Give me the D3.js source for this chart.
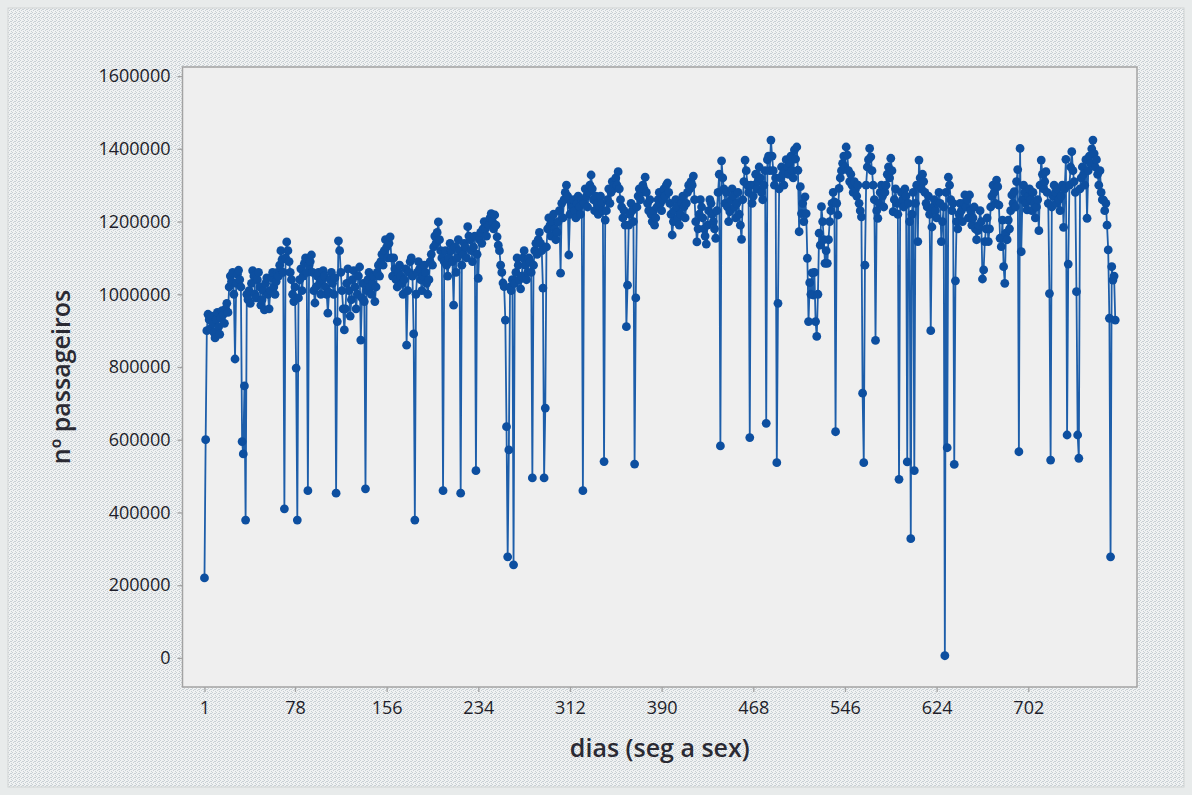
<!DOCTYPE html>
<html>
<head>
<meta charset="utf-8">
<script src="https://cdn.jsdelivr.net/npm/d3@7/dist/d3.min.js"></script>
<style>
  html, body { margin: 0; padding: 0; background: #e6e9e9; }
  svg { display: block; }
</style>
</head>
<body>
<svg id="chart" width="1192" height="795"></svg>
<script>
// Daily passengers (thousands), weekdays in blocks of 100 days
const block1 = [220,600,900,945,930,905,940,920,895,880, 930,950,910,890,935,955,945,920,960,975,
  950,1020,1050,1035,1060,1000,822,1030,1055,1066, 1040,1020,595,561,748,379,1000,985,1010,975,
  1030,1065,1050,1000,990,1040,1060,1020,970,985, 1010,957,1030,1045,1000,960,1010,1045,1060,1020,
  1000,1035,1060,1050,1080,1120,1095,1060,410,1100, 1144,1120,1090,1060,1040,1000,980,1020,797,379,
  990,1040,1070,1010,1050,1085,1100,1060,460,1080, 1090,1108,1060,1010,976,1020,1050,1060,1030,1000];
const block2 = [1040,1065,1050,1020,1000,948,1005,1040,1060,1030, 1000,1045,453,925,1147,1120,1060,1010,960,902,
  960,1030,1070,1010,940,985,1040,1065,1020,960, 1000,1050,1075,874,990,1030,980,465,1010,1040,
  1060,1020,1000,1030,1050,980,1020,1060,1080,1050, 1090,1110,1080,1120,1150,1130,1100,1140,1158,1100,
  1050,1100,1070,1040,1020,1060,1080,1050,1030,1000, 1040,1070,860,1010,1060,1090,1100,1050,891,379,
  1000,1060,1090,1070,1040,1010,1050,1080,1060,1030, 1000,1040,1090,1110,1080,1130,1160,1140,1170,1199];
const block3 = [1150,1120,1100,460,1090,1120,1080,1050,1100,1140, 1120,1090,970,1130,1060,1100,1150,1120,453,1080,
  1110,1140,1130,1100,1186,1160,1150,1120,1090,1130, 1160,515,1110,1044,1150,1170,1140,1180,1200,1180,
  1160,1200,1190,1210,1222,1200,1180,1218,1190,1158, 1135,1120,1080,1060,1031,1021,929,636,278,572,
  1020,1010,1040,256,1030,1060,1100,1080,1040,1015, 1050,1100,1120,1080,1040,1060,1100,1090,1060,495,
  1080,1120,1140,1110,1150,1170,1140,1120,1017,495, 687,1130,1180,1210,1190,1160,1200,1220,1180,1150];
const block4 = [1170,1200,1230,1058,1250,1210,1260,1280,1300,1270, 1108,1220,1250,1240,1260,1230,1210,1250,1270,1240,
  1220,1260,460,1250,1290,1270,1240,1280,1300,1328, 1290,1260,1230,1270,1250,1220,1240,1270,1250,1230,
  540,1204,1230,1260,1290,1250,1280,1310,1290,1300, 1320,1300,1337,1290,1260,1240,1210,1230,1190,911,
  1025,1190,1220,1250,1230,1200,533,990,1240,1270, 1290,1260,1280,1300,1290,1322,1280,1250,1230,1260,
  1220,1200,1230,1190,1210,1240,1260,1280,1250,1230, 1260,1290,1270,1300,1306,1280,1250,1220,1163,1200];
const block5 = [1230,1260,1240,1210,1190,1220,1250,1270,1240,1210, 1250,1280,1300,1290,1310,1300,1325,1260,1200,1144,
  1180,1220,1260,1240,1210,1180,1160,1138,1190,1230, 1260,1250,1220,1200,1180,1154,1230,1280,1330,583,
  1367,1320,1290,1250,1280,1240,1200,1227,1260,1290, 1270,1240,1210,1250,1280,1220,1190,1151,1260,1310,
  1369,1340,1300,1280,606,1300,1250,1270,1300,1330, 1290,1310,1350,1320,1280,1260,1300,1340,645,1370,
  1380,1340,1424,1380,1340,1300,1320,537,975,1290, 1320,1350,1330,1300,1340,1370,1350,1330,1360,1380];
const block6 = [1340,1320,1397,1372,1405,1341,1172,1296,1222,1250, 1200,1268,1222,1099,925,1032,1000,1059,998,1060,
  925,884,1000,1168,1135,1241,1200,1150,1085,1120, 1085,1150,1200,1230,1250,1280,1254,622,1250,1218,
  1291,1320,1340,1360,1380,1350,1405,1383,1340,1310, 1330,1300,1280,1310,1290,1270,1300,1250,1230,1213,
  728,537,1080,1300,1350,1370,1401,1378,1340,1300, 1260,873,1230,1209,1250,1280,1300,1270,1240,1280,
  1300,1330,1350,1320,1374,1340,1227,1260,1290,1250, 1220,491,1250,1280,1260,1240,1290,1270,539,1250];
const block7 = [1200,328,1220,1280,515,1250,1300,1145,1369,1320, 1290,1330,1310,1280,1250,1240,1270,1220,900,1185,
  1240,1260,1230,1210,1250,1280,1250,1145,1200,1240, 6,1280,578,1322,1300,1260,1230,1250,532,1037,
  1200,1180,1220,1250,1230,1200,1250,1273,1240,1260, 1210,1273,1230,1190,1210,1240,1180,1150,1175,1190,
  1230,1200,1042,1067,1145,1180,1210,1145,1180,1240, 1270,1300,1280,1250,1314,1296,1245,1154,1131,1204,
  1076,1030,1168,1150,1204,1180,1230,1273,1250,1282, 1240,1310,1343,567,1401,1117,1260,1300,1280,1250];
const block8 = [1232,1270,1290,1260,1230,1280,1250,1210,1240,1260, 1175,1300,1369,1330,1290,1310,1337,1280,1250,1002,
  544,1240,1270,1300,1280,1250,1290,1260,1230,1270, 1300,1184,1290,1371,613,1083,1300,1350,1392,1340,
  1310,1280,1007,613,549,1290,1320,1350,1330,1300, 1370,1209,1340,1380,1360,1400,1424,1387,1350,1370,
  1330,1300,1340,1280,1260,1259,1230,1250,1190,1122, 934,278,1076,1039,1050,929];

const passengers = [].concat(block1, block2, block3, block4, block5, block6, block7, block8)
  .map(v => v * 1000);
const days = passengers.map((v, i) => i + 1);

const xTickValues = [1, 78, 156, 234, 312, 390, 468, 546, 624, 702];
const yTickValues = [0, 200000, 400000, 600000, 800000, 1000000, 1200000, 1400000, 1600000];

const xAxisTitle = "dias (seg a sex)";
const yAxisTitle = "nº passageiros";

// ---------------- drawing ----------------
const W = 1192, H = 795;
const svg = d3.select("#chart");
const defs = svg.append("defs");

// dithered frame background
const pat = defs.append("pattern").attr("id", "dither")
  .attr("width", 4).attr("height", 4).attr("patternUnits", "userSpaceOnUse");
pat.append("rect").attr("width", 4).attr("height", 4).attr("fill", "#f0f2f2");
[[0,0],[2,1],[1,2],[3,3],[3,1]].forEach(([px, py]) =>
  pat.append("rect").attr("x", px).attr("y", py).attr("width", 1).attr("height", 1).attr("fill", "#c8cfd4"));

svg.append("rect").attr("width", W).attr("height", H).attr("fill", "#e8ebeb");
svg.append("rect").attr("x", 8).attr("y", 8).attr("width", W - 16).attr("height", H - 16)
  .attr("fill", "url(#dither)").attr("stroke", "#d0d4d4").attr("stroke-width", 1);

const plot = { left: 182.5, right: 1137, top: 67, bottom: 687 };

const x = d3.scaleLinear()
  .domain([-17.7, 794.5])
  .range([plot.left, plot.right]);
const y = d3.scaleLinear()
  .domain([-80000, 1625000])
  .range([plot.bottom, plot.top]);

// plot area
svg.append("rect")
  .attr("x", plot.left).attr("y", plot.top)
  .attr("width", plot.right - plot.left).attr("height", plot.bottom - plot.top)
  .attr("fill", "#efefef").attr("stroke", "#a3a3a3").attr("stroke-width", 1.5);

const fontFam = "'Open Sans', 'Noto Sans', 'DejaVu Sans', sans-serif";

// y axis
const yAxis = svg.append("g")
  .attr("transform", `translate(${plot.left},0)`)
  .call(d3.axisLeft(y).tickValues(yTickValues).tickSize(5).tickPadding(7).tickFormat(d3.format("d")));
yAxis.select(".domain").remove();
yAxis.selectAll(".tick line").attr("stroke", "#a3a3a3").attr("stroke-width", 1.3);
yAxis.selectAll(".tick text").attr("fill", "#1e1e2a").attr("font-size", 18).attr("font-family", fontFam);

// x axis
const xAxis = svg.append("g")
  .attr("transform", `translate(0,${plot.bottom})`)
  .call(d3.axisBottom(x).tickValues(xTickValues).tickSize(5).tickPadding(9).tickFormat(d3.format("d")));
xAxis.select(".domain").remove();
xAxis.selectAll(".tick line").attr("stroke", "#a3a3a3").attr("stroke-width", 1.3);
xAxis.selectAll(".tick text").attr("fill", "#1e1e2a").attr("font-size", 18).attr("font-family", fontFam);

// axis titles
svg.append("text")
  .attr("x", (plot.left + plot.right) / 2).attr("y", 757)
  .attr("text-anchor", "middle")
  .attr("font-family", fontFam).attr("font-size", 25).attr("font-weight", 600).attr("fill", "#2a2a33")
  .text(xAxisTitle);
svg.append("text")
  .attr("transform", `translate(70,${(plot.top + plot.bottom) / 2}) rotate(-90)`)
  .attr("text-anchor", "middle")
  .attr("font-family", fontFam).attr("font-size", 25).attr("font-weight", 600).attr("fill", "#2a2a33")
  .text(yAxisTitle);

// series
const data = days.map((d, i) => ({ day: d, value: passengers[i] }));
const blue = "#0d4fa0";

svg.append("path")
  .datum(data)
  .attr("fill", "none")
  .attr("stroke", "#1d5eaa")
  .attr("stroke-width", 1.8)
  .attr("d", d3.line().x(d => x(d.day)).y(d => y(d.value)));

svg.append("g").selectAll("circle")
  .data(data)
  .join("circle")
  .attr("cx", d => x(d.day))
  .attr("cy", d => y(d.value))
  .attr("r", 4.4)
  .attr("fill", blue);
</script>
</body>
</html>
